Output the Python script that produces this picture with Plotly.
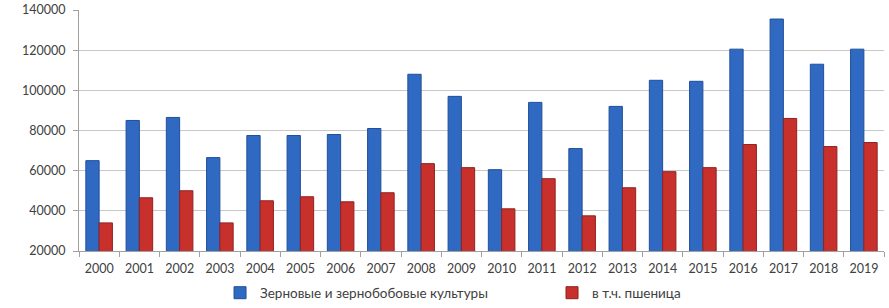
import plotly.graph_objects as go

years = [str(y) for y in range(2000, 2020)]
grain = [65000, 85000, 86500, 66500, 77500, 77500, 78000, 81000, 108000, 97000,
         60500, 94000, 71000, 92000, 105000, 104500, 120500, 135500, 113000, 120500]
wheat = [34000, 46500, 50000, 34000, 45000, 47000, 44500, 49000, 63500, 61500,
         41000, 56000, 37500, 51500, 59500, 61500, 73000, 86000, 72000, 74000]
names = ["Зерновые и зернобобовые культуры", "в т.ч. пшеница"]
y_ticks = [20000, 40000, 60000, 80000, 100000, 120000, 140000]

fig = go.Figure()
fig.add_trace(go.Bar(x=years, y=grain, name=names[0], legend="legend",
                     marker=dict(color="#3069C2", line=dict(color="#1F4F9A", width=1))))
fig.add_trace(go.Bar(x=years, y=wheat, name=names[1], legend="legend2",
                     marker=dict(color="#C8302C", line=dict(color="#902020", width=1))))

leg_common = dict(orientation="h", xanchor="left", y=-0.174, yanchor="middle",
                  font=dict(size=13.5, color="#404040"), itemwidth=30,
                  bgcolor="rgba(0,0,0,0)")

fig.update_layout(
    width=889, height=308,
    margin=dict(l=79, r=5, t=10, b=57, autoexpand=False),
    paper_bgcolor="white", plot_bgcolor="white",
    barmode="group", bargap=0.34, bargroupgap=0.0,
    font=dict(family="Lato, Open Sans, sans-serif", size=12.5, color="#404040"),
    showlegend=True,
    legend=dict(x=0.1752, **leg_common),
    legend2=dict(x=0.5876, **leg_common),
    xaxis=dict(type="category", showline=True, linecolor="#A0A0A0", linewidth=1,
               ticks="outside", tickson="boundaries", ticklen=5, tickcolor="#A0A0A0",
               showgrid=False, fixedrange=True, ticklabelstandoff=6),
    yaxis=dict(range=[20000, 140000], tickvals=y_ticks, tickformat="d", showline=True,
               linecolor="#A0A0A0", linewidth=1, ticks="outside", ticklen=5,
               tickcolor="#A0A0A0", showgrid=True, gridcolor="#C8C8C8",
               gridwidth=1, zeroline=False, ticklabelstandoff=5, fixedrange=True),
)
fig.write_html("out.html", config={"displayModeBar": False},
               post_script="document.body.style.margin='0';")
